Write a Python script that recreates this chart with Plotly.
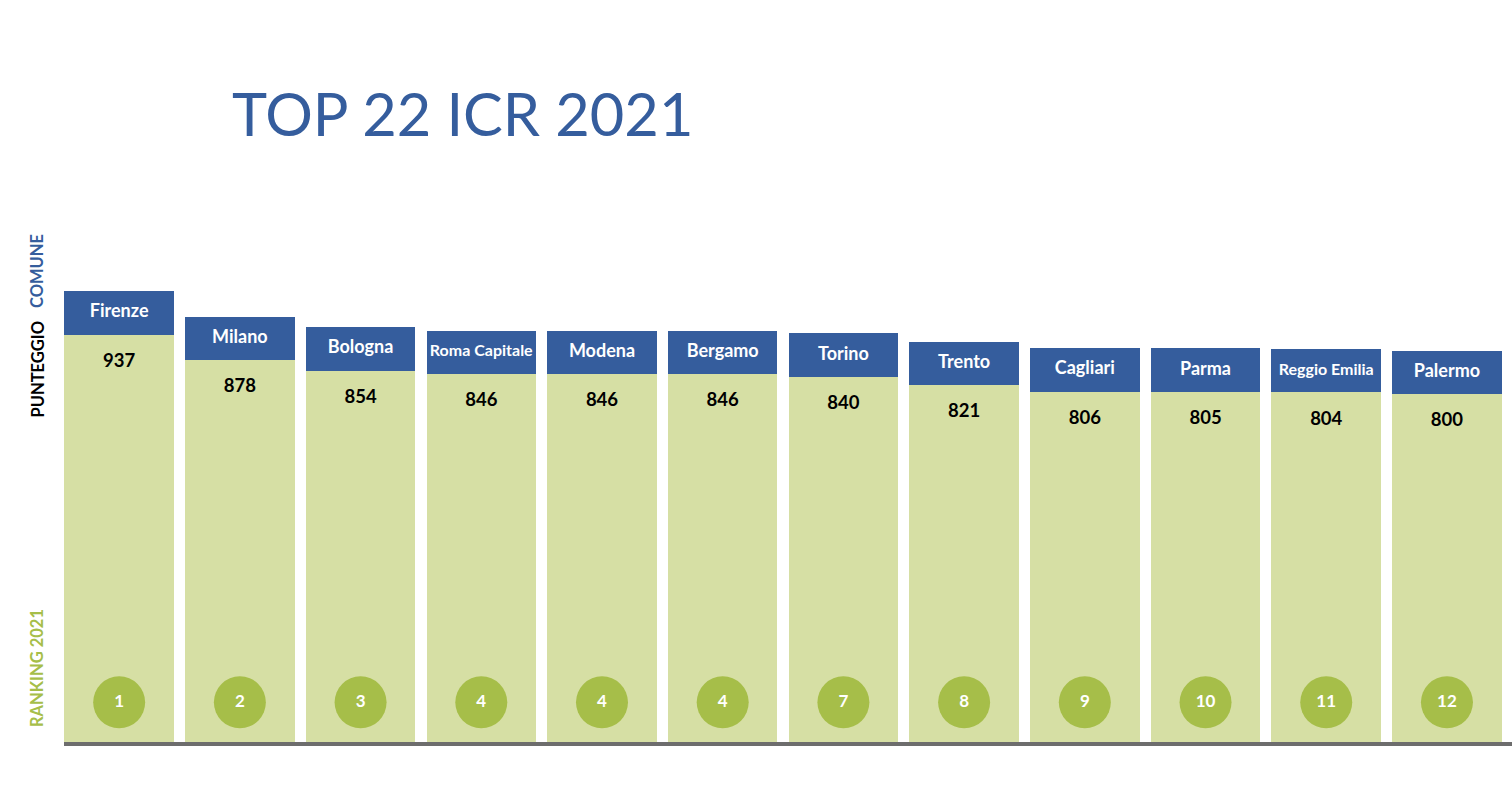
import plotly.graph_objects as go

cities = ["Firenze", "Milano", "Bologna", "Roma Capitale", "Modena", "Bergamo",
          "Torino", "Trento", "Cagliari", "Parma", "Reggio Emilia", "Palermo"]
scores = [937, 878, 854, 846, 846, 846, 840, 821, 806, 805, 804, 800]
ranks = [1, 2, 3, 4, 4, 4, 7, 8, 9, 10, 11, 12]

# styling
GREEN_BAR = "#d6dfa4"
BLUE = "#355d9d"
GREEN_DOT = "#a6be49"
HEADER = 100          # header height in axis units
name_sizes = [18 if len(c) < 12 else 16 for c in cities]

x = list(range(len(cities)))

fig = go.Figure()
fig.add_trace(go.Bar(x=x, y=scores, marker=dict(color=GREEN_BAR, line=dict(width=0)),
                     hoverinfo="skip"))
fig.add_trace(go.Bar(x=x, y=[HEADER] * len(x), marker=dict(color=BLUE, line=dict(width=0)),
                     hoverinfo="skip"))
# city names
fig.add_trace(go.Scatter(x=x, y=[s + HEADER / 2 for s in scores], mode="text", text=cities,
                         textposition="middle center",
                         textfont=dict(family="Lato", size=name_sizes, color="white", weight="bold"),
                         hoverinfo="skip"))
# scores
fig.add_trace(go.Scatter(x=x, y=[s - 63 for s in scores], mode="text",
                         text=[str(s) for s in scores], textposition="middle center",
                         textfont=dict(family="Lato", size=18.5, color="black", weight="bold"),
                         hoverinfo="skip"))
# ranks
fig.add_trace(go.Scatter(x=x, y=[93] * len(x), mode="markers+text",
                         text=[str(r) for r in ranks], textposition="middle center",
                         marker=dict(size=52, color=GREEN_DOT, line=dict(width=0)),
                         textfont=dict(family="Lato", size=17, color="white", weight="bold"),
                         hoverinfo="skip"))

L, T, B = 64, 100, 54
W, H = 1512, 796
pw, ph = W - L, H - T - B

def px_x(p):
    return (p - L) / pw

def px_y(p):
    return (H - B - p) / ph

annotations = [
    dict(text="TOP 22 ICR 2021", x=px_x(230), y=px_y(113), xref="paper", yref="paper",
         xanchor="left", yanchor="middle", showarrow=False,
         font=dict(family="Lato", size=59.5, color=BLUE)),
    dict(text="COMUNE", x=px_x(37), y=px_y(271), xref="paper", yref="paper", textangle=-90,
         xanchor="center", yanchor="middle", showarrow=False,
         font=dict(family="Lato", size=16.5, color=BLUE, weight="bold")),
    dict(text="PUNTEGGIO", x=px_x(37), y=px_y(369.5), xref="paper", yref="paper", textangle=-90,
         xanchor="center", yanchor="middle", showarrow=False,
         font=dict(family="Lato", size=16.5, color="black", weight="bold")),
    dict(text="RANKING 2021", x=px_x(37), y=px_y(668), xref="paper", yref="paper", textangle=-90,
         xanchor="center", yanchor="middle", showarrow=False,
         font=dict(family="Lato", size=16.5, color=GREEN_DOT, weight="bold")),
]

fig.update_layout(
    width=W, height=H,
    margin=dict(l=L, r=0, t=T, b=B, pad=0),
    barmode="stack", bargap=0.093,
    showlegend=False,
    plot_bgcolor="white", paper_bgcolor="white",
    xaxis=dict(range=[-0.457, 11.539], showgrid=False, zeroline=False, showticklabels=False,
               ticks="", showline=True, linewidth=4, linecolor="#6d6d6d"),
    yaxis=dict(range=[2, 2 + ph / 0.4358], showgrid=False, zeroline=False,
               showticklabels=False, ticks="", visible=False),
    annotations=annotations,
)

fig.write_html("out.html")
